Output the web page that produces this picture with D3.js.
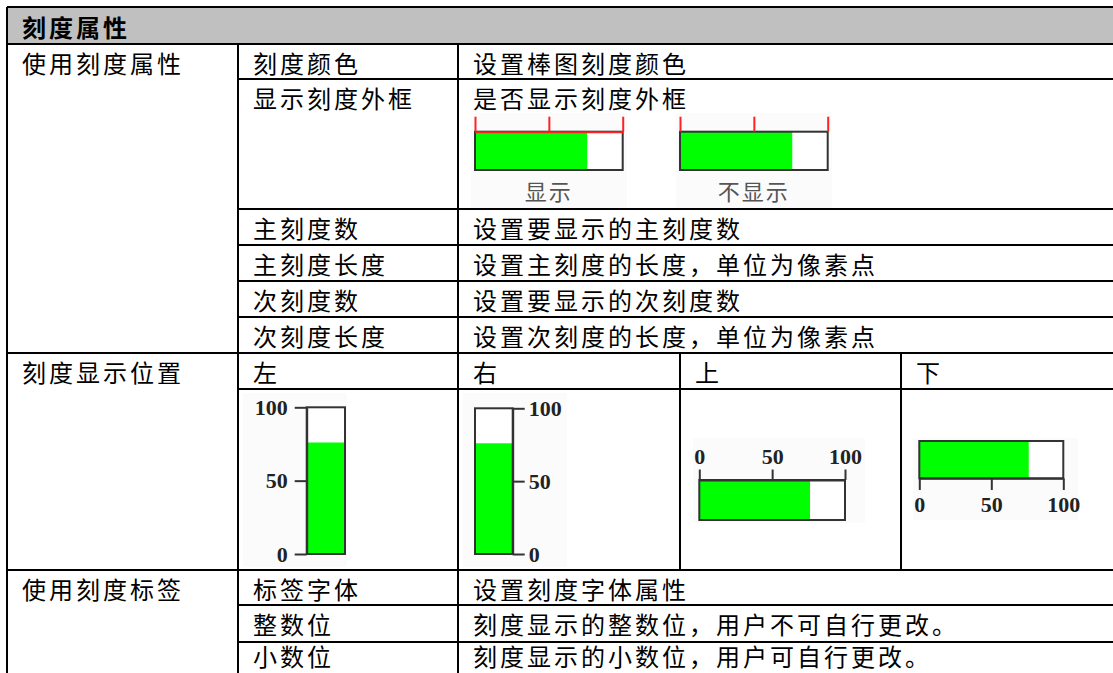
<!DOCTYPE html>
<html><head><meta charset="utf-8">
<script src="https://cdn.jsdelivr.net/npm/d3@7"></script>
<style>
html,body{margin:0;padding:0;background:#fff;}
svg{display:block;}
.cell{font-family:"Noto Sans CJK SC","Noto Sans",sans-serif;font-size:24px;letter-spacing:3px;fill:#000;}
.hdr{font-weight:bold;}
.ax text{font-family:"Liberation Serif","DejaVu Serif",serif;font-weight:bold;font-size:22px;fill:#222;}
</style></head>
<body>
<script>
// ---------- data ----------
const headerTitle = "刻度属性";
const groupNames = ["使用刻度属性", "刻度显示位置", "使用刻度标签"];
const scaleProps = ["刻度颜色", "显示刻度外框", "主刻度数", "主刻度长度", "次刻度数", "次刻度长度"];
const scaleDescs = ["设置棒图刻度颜色", "是否显示刻度外框", "设置要显示的主刻度数",
  "设置主刻度的长度，单位为像素点", "设置要显示的次刻度数", "设置次刻度的长度，单位为像素点"];
const positionNames = ["左", "右", "上", "下"];
const labelProps = ["标签字体", "整数位", "小数位"];
const labelDescs = ["设置刻度字体属性", "刻度显示的整数位，用户不可自行更改。", "刻度显示的小数位，用户可自行更改。"];
const borderLabels = ["显示", "不显示"];
const gaugeDomain = [0, 100];
const gaugeTicks = [0, 50, 100];
const gaugeValue = 76;

// ---------- layout ----------
const W = 1113, H = 673;
const colX = [7, 238, 458, 680, 901, 1116];
const rowY = [7, 44, 79, 209, 245, 281, 317, 353, 389, 570, 605, 642, 672];
const pad = 15;

const svg = d3.select("body").append("svg").attr("width", W).attr("height", H);

// header background
svg.append("rect").attr("x", colX[0]).attr("y", rowY[0]).attr("width", colX[5] - colX[0]).attr("height", rowY[1] - rowY[0]).attr("fill", "#c0c0c0");

// grid lines
const lines = [];
const hl = (y, x1, x2) => lines.push({x1, x2, y1: y, y2: y});
const vl = (x, y1, y2) => lines.push({x1: x, x2: x, y1, y2});
hl(rowY[0], colX[0], colX[5]);
hl(rowY[1], colX[0], colX[5]);
[2, 3, 4, 5, 6].forEach(i => hl(rowY[i], colX[1], colX[5]));
hl(rowY[7], colX[0], colX[5]);
hl(rowY[8], colX[1], colX[5]);
hl(rowY[9], colX[0], colX[5]);
[10, 11].forEach(i => hl(rowY[i], colX[1], colX[5]));
vl(colX[0], rowY[0], H);
vl(colX[1], rowY[1], H);
vl(colX[2], rowY[1], H);
vl(colX[3], rowY[7], rowY[9]);
vl(colX[4], rowY[7], rowY[9]);
svg.append("g").selectAll("line").data(lines).join("line")
  .attr("x1", d => d.x1).attr("x2", d => d.x2).attr("y1", d => d.y1).attr("y2", d => d.y2)
  .attr("stroke", "#000").attr("stroke-width", 2);

// texts
const texts = [];
const rowMid = (i) => Math.min(rowY[i] + 18, rowY[i + 1] - 17);
texts.push({t: headerTitle, x: colX[0] + pad, y: (rowY[0] + rowY[1]) / 2 + 0.5, cls: "cell hdr"});
texts.push({t: groupNames[0], x: colX[0] + pad, y: rowMid(1)});
texts.push({t: groupNames[1], x: colX[0] + pad, y: rowMid(7)});
texts.push({t: groupNames[2], x: colX[0] + pad, y: rowMid(9)});
scaleProps.forEach((p, i) => {
  texts.push({t: p, x: colX[1] + pad, y: rowMid(1 + i)});
  texts.push({t: scaleDescs[i], x: colX[2] + pad, y: rowMid(1 + i)});
});
positionNames.forEach((p, i) => texts.push({t: p, x: colX[1 + i] + pad, y: rowMid(7)}));
labelProps.forEach((p, i) => {
  texts.push({t: p, x: colX[1] + pad, y: rowMid(9 + i)});
  texts.push({t: labelDescs[i], x: colX[2] + pad, y: rowMid(9 + i)});
});
svg.append("g").selectAll("text").data(texts).join("text")
  .attr("class", d => d.cls || "cell")
  .attr("x", d => d.x).attr("y", d => d.y)
  .attr("dominant-baseline", "central")
  .text(d => d.t);

// ---------- gauges ----------
const OUT = "#333";
function hBar(g, x, y0, h) {
  const [a, b] = x.range();
  g.append("rect").attr("x", a).attr("y", y0).attr("width", b - a).attr("height", h).attr("fill", "#fff");
  g.append("rect").attr("x", a).attr("y", y0).attr("width", x(gaugeValue) - a).attr("height", h).attr("fill", "#00ff00");
  g.append("rect").attr("x", a).attr("y", y0).attr("width", b - a).attr("height", h)
    .attr("fill", "none").attr("stroke", OUT).attr("stroke-width", 2);
}
function vBar(g, y, x0, w) {
  const [b, a] = y.range(); // b bottom, a top
  g.append("rect").attr("x", x0).attr("y", a).attr("width", w).attr("height", b - a).attr("fill", "#fff");
  g.append("rect").attr("x", x0).attr("y", y(gaugeValue)).attr("width", w).attr("height", b - y(gaugeValue)).attr("fill", "#00ff00");
  g.append("rect").attr("x", x0).attr("y", a).attr("width", w).attr("height", b - a)
    .attr("fill", "none").attr("stroke", OUT).attr("stroke-width", 2);
}
function bg(x, y, w, h) {
  svg.append("rect").attr("x", x).attr("y", y).attr("width", w).attr("height", h).attr("fill", "#fbfbfb");
}
function styleAxis(g, color) {
  g.selectAll("path.domain").attr("stroke", color).attr("stroke-width", 2);
  g.selectAll(".tick line").attr("stroke", color).attr("stroke-width", 2);
}

// border gauges (显示 / 不显示)
const borderX0 = [475, 680];
borderX0.forEach((x0, i) => {
  bg(x0 - 4, 113, 156, 95);
  const x = d3.scaleLinear().domain(gaugeDomain).range([x0, x0 + 147.7]);
  const g = svg.append("g");
  hBar(g, x, 131.7, 38.3);
  const ax = svg.append("g").attr("class", "ax").attr("transform", "translate(0,131.7)")
    .call(d3.axisTop(x).tickValues(gaugeTicks).tickSize(15).tickSizeOuter(0).tickFormat(""));
  styleAxis(ax, "#f22");
  if (i === 1) ax.select("path.domain").remove();
  svg.append("text").attr("x", (x0 + x0 + 147.7) / 2).attr("y", 190)
    .attr("text-anchor", "middle").attr("dominant-baseline", "central")
    .style("font-family", '"Noto Sans CJK SC",sans-serif').style("font-size", "22px")
    .style("letter-spacing", "2px").attr("fill", "#555").text(borderLabels[i]);
});

// 左
bg(243, 393, 104, 174);
const yL = d3.scaleLinear().domain(gaugeDomain).range([554, 407.3]);
vBar(svg.append("g"), yL, 306.7, 38.3);
styleAxis(svg.append("g").attr("class", "ax").attr("transform", "translate(306.7,0)")
  .call(d3.axisLeft(yL).tickValues(gaugeTicks).tickSize(12).tickSizeOuter(0).tickPadding(7)), OUT);

// 右
bg(463, 393, 104, 174);
const yR = d3.scaleLinear().domain(gaugeDomain).range([554, 408.3]);
vBar(svg.append("g"), yR, 475, 37.7);
styleAxis(svg.append("g").attr("class", "ax").attr("transform", "translate(512.7,0)")
  .call(d3.axisRight(yR).tickValues(gaugeTicks).tickSize(12).tickSizeOuter(0).tickPadding(4)), OUT);

// 上
bg(693, 438, 172, 85);
const xT = d3.scaleLinear().domain(gaugeDomain).range([699.3, 845]);
hBar(svg.append("g"), xT, 480, 40);
styleAxis(svg.append("g").attr("class", "ax").attr("transform", "translate(0,480)")
  .call(d3.axisTop(xT).tickValues(gaugeTicks).tickSize(10.5).tickSizeOuter(0).tickPadding(6)), OUT);

// 下
bg(913, 438, 165, 82);
const xB = d3.scaleLinear().domain(gaugeDomain).range([919.3, 1063.3]);
hBar(svg.append("g"), xB, 441, 37.3);
styleAxis(svg.append("g").attr("class", "ax").attr("transform", "translate(0,478.3)")
  .call(d3.axisBottom(xB).tickValues(gaugeTicks).tickSize(11.7).tickSizeOuter(0).tickPadding(6)), OUT);
</script>
</body></html>
